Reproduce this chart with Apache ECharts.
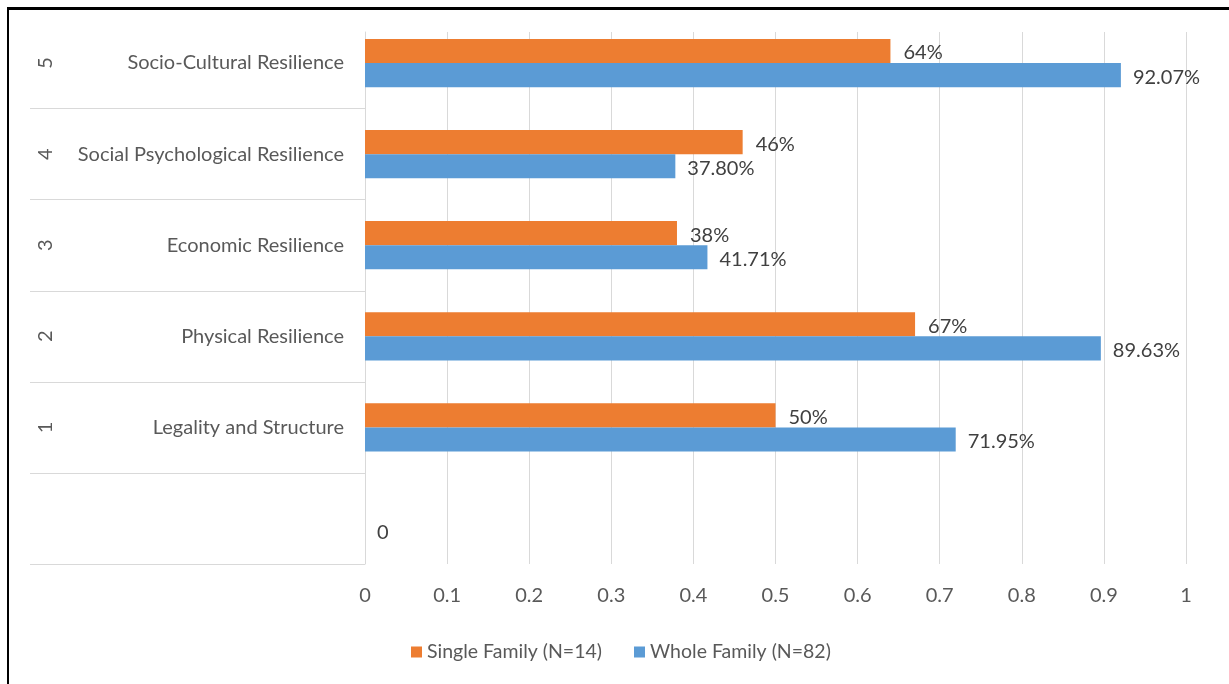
<!DOCTYPE html>
<html><head><meta charset="utf-8">
<script src="https://cdn.jsdelivr.net/npm/echarts@6/dist/echarts.min.js"></script>
<style>
html,body{margin:0;padding:0;background:#fff;overflow:hidden;}
#chart{width:1229px;height:684px;}
#frame{position:absolute;left:7px;top:7px;width:1260px;height:720px;border-left:2px solid #000;border-top:3px solid #000;pointer-events:none;}
</style></head><body>
<div id="chart"></div><div id="frame"></div>
<script>
const categories = ['', 'Legality and Structure', 'Physical Resilience', 'Economic Resilience', 'Social Psychological Resilience', 'Socio-Cultural Resilience'];
const groupNumbers = ['', '1', '2', '3', '4', '5'];
const singleFamily = [null, 0.50, 0.67, 0.38, 0.46, 0.64];
const wholeFamily = [0, 0.7195, 0.8963, 0.4171, 0.378, 0.9207];
const seriesNames = ['Single Family (N=14)', 'Whole Family (N=82)'];

const FONT = 'Lato';
const FS = 20;
const GRID_LINE = '#d9d9d9';
const AXIS_TEXT = '#595959';
const LABEL_TEXT = '#404040';

const chart = echarts.init(document.getElementById('chart'), null, {renderer: 'canvas'});
const option = {
  animation: false,
  backgroundColor: '#ffffff',
  textStyle: {fontFamily: FONT},
  legend: {
    data: seriesNames,
    left: 406, top: 637,
    itemWidth: 11, itemHeight: 11, itemGap: 32,
    icon: 'rect',
    textStyle: {fontFamily: FONT, fontSize: 19.5, color: AXIS_TEXT}
  },
  grid: [
    {left: 365, right: 43, top: 17.5, bottom: 120},
    {left: 30, right: 864, top: 17.5, bottom: 120},
    {left: 365, right: 43, top: 32, bottom: 120}
  ],
  xAxis: [
    {gridIndex: 0, type: 'value', min: 0, max: 1, interval: 0.1, show: false},
    {gridIndex: 1, type: 'value', min: 0, max: 1, show: false},
    {gridIndex: 2, type: 'value', min: 0, max: 1, interval: 0.1,
     axisLine: {show: false}, axisTick: {show: false},
     splitLine: {show: true, lineStyle: {color: GRID_LINE, width: 1}},
     axisLabel: {fontFamily: FONT, fontSize: FS, color: AXIS_TEXT, margin: 22}}
  ],
  yAxis: [
    {gridIndex: 0, type: 'category', data: categories,
     axisLine: {show: false}, axisTick: {show: false}, splitLine: {show: false},
     axisLabel: {fontFamily: FONT, fontSize: FS, color: AXIS_TEXT, margin: 21}},
    {gridIndex: 0, type: 'category', data: groupNumbers, position: 'left', offset: 300,
     axisLine: {show: false}, axisTick: {show: false}, splitLine: {show: false},
     axisLabel: {fontFamily: FONT, fontSize: FS, color: AXIS_TEXT, margin: 9, rotate: 90}},
    {gridIndex: 1, type: 'category', data: categories,
     axisLine: {show: false}, axisTick: {show: false}, axisLabel: {show: false},
     splitLine: {show: true, showMaxLine: false, lineStyle: {color: GRID_LINE, width: 1}}},
    {gridIndex: 2, type: 'value', min: 0, max: 1,
     axisLine: {show: true, lineStyle: {color: GRID_LINE, width: 1}},
     axisTick: {show: false}, axisLabel: {show: false}, splitLine: {show: false}}
  ],
  series: [
    {
      name: seriesNames[0], type: 'bar', xAxisIndex: 0, yAxisIndex: 0,
      data: singleFamily, barGap: '0%', barCategoryGap: '47%',
      itemStyle: {color: '#ED7D31'},
      label: {show: true, position: 'right', distance: 13, offset: [0, 2],
        fontFamily: FONT, fontSize: FS, color: LABEL_TEXT,
        formatter: p => Math.round(p.value * 100) + '%'}
    },
    {
      name: seriesNames[1], type: 'bar', xAxisIndex: 0, yAxisIndex: 0,
      data: wholeFamily, barGap: '0%', barCategoryGap: '47%',
      itemStyle: {color: '#5B9BD5'},
      label: {show: true, position: 'right', distance: 12, offset: [0, 2],
        fontFamily: FONT, fontSize: FS, color: LABEL_TEXT,
        formatter: p => p.value === 0 ? '0' : (p.value * 100).toFixed(2) + '%'}
    }
  ]
};
chart.setOption(option);
</script>
</body></html>
